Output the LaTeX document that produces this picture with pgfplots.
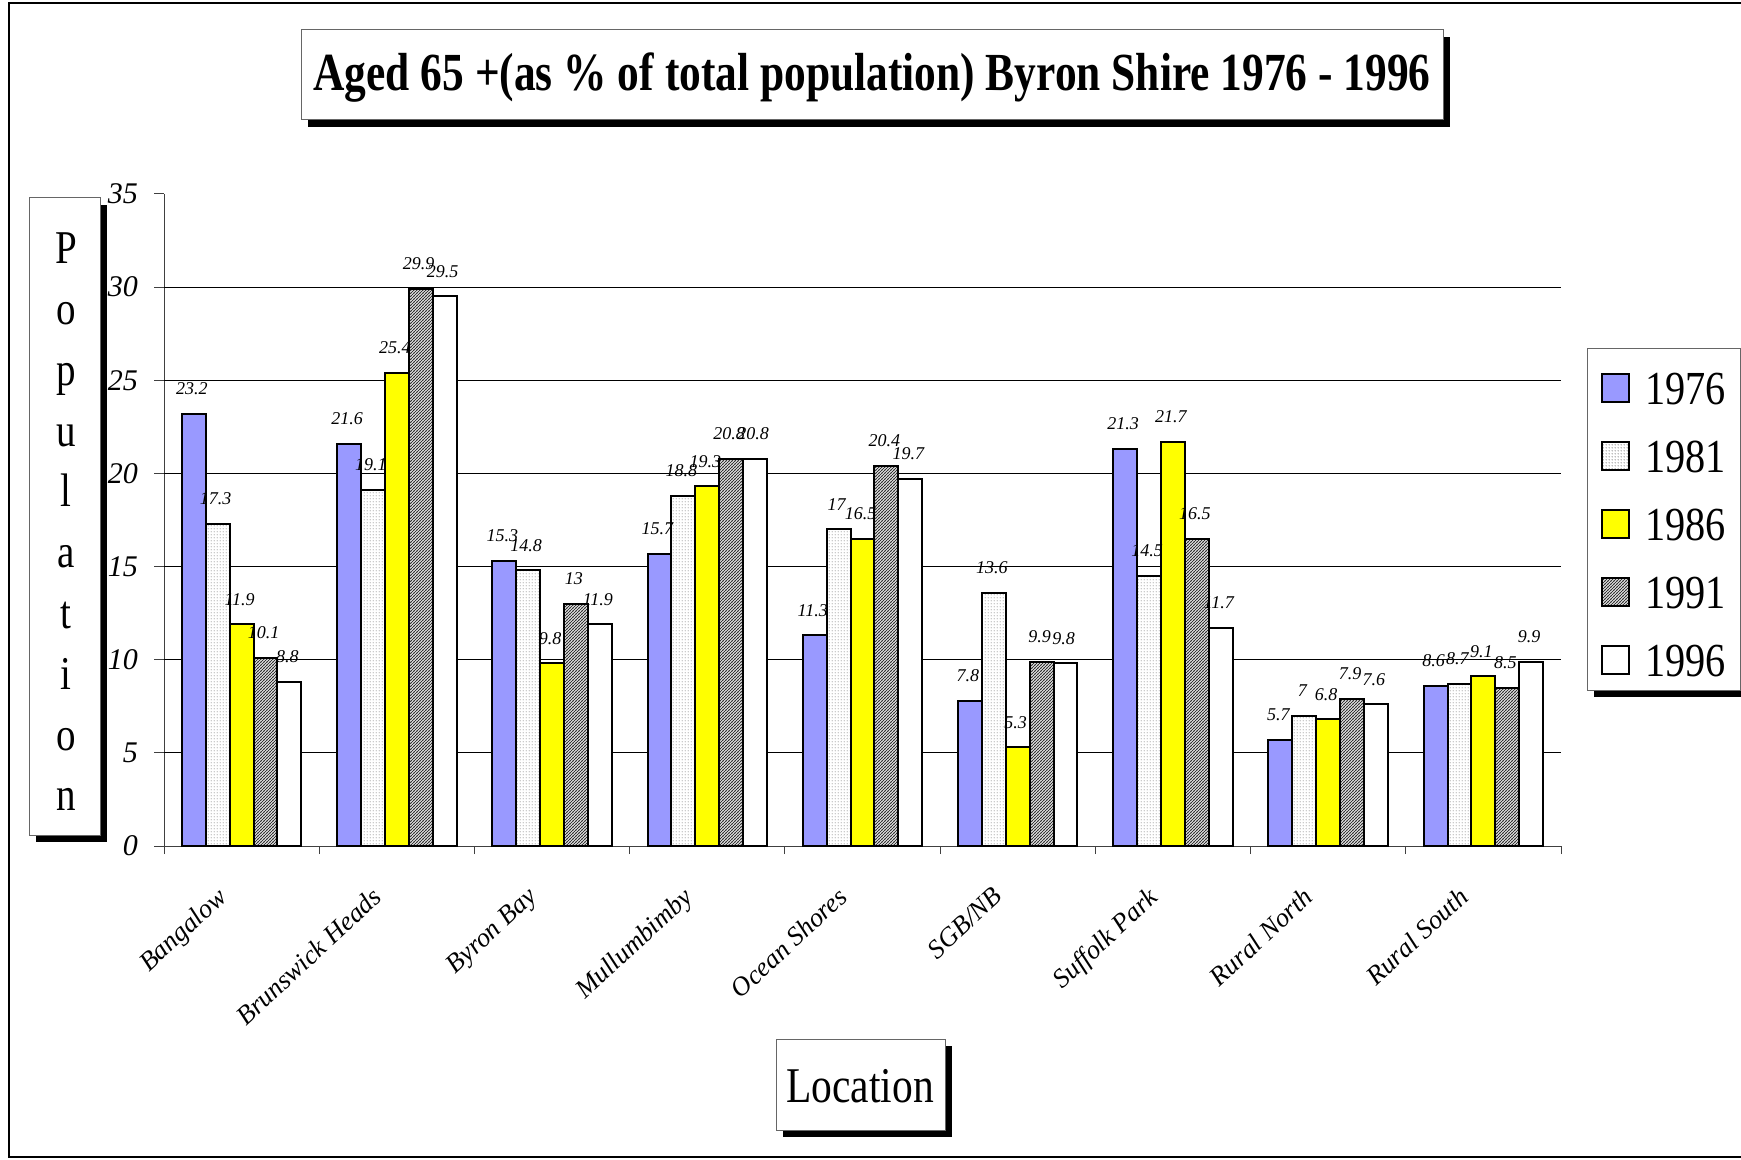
\documentclass[border=0pt]{standalone}
\usepackage{fontspec}
\setmainfont{Liberation Serif}
\newfontfamily\cond[FakeStretch=0.83]{Liberation Serif}
\newfontfamily\titlefont[FakeStretch=0.81]{Liberation Serif}
\newfontfamily\legfont[FakeStretch=0.85]{Liberation Serif}
\usepackage{pgfplots}
\pgfplotsset{compat=1.18}
\usetikzlibrary{patterns}
\definecolor{peri}{HTML}{9999FF}
\definecolor{yel}{HTML}{FFFF00}
\pgfdeclarepatternformonly{finedots}{\pgfqpoint{0pt}{0pt}}{\pgfqpoint{1.5pt}{1.5pt}}{\pgfqpoint{1.5pt}{1.5pt}}{%
  \pgfpathcircle{\pgfqpoint{0.75pt}{0.75pt}}{0.33pt}\pgfusepath{fill}}
\pgfdeclarepatternformonly{finelines}{\pgfqpoint{-0.5pt}{-0.5pt}}{\pgfqpoint{2pt}{2pt}}{\pgfqpoint{1.5pt}{1.5pt}}{%
  \pgfsetlinewidth{0.4pt}\pgfpathmoveto{\pgfqpoint{-0.2pt}{-0.2pt}}\pgfpathlineto{\pgfqpoint{1.7pt}{1.7pt}}\pgfusepath{stroke}}
\begin{document}
\begin{tikzpicture}
\begin{scope}[x=0.5pt,y=-0.5pt]
  % outer frame
  \draw[line width=0.6pt] (1741,3) -- (9,3) -- (9,1157) -- (1741,1157);
  % title
  \fill[black] (308,37) rectangle (1450,127);
  \draw[fill=white, draw=black!60, line width=0.5pt] (301,30) rectangle (1443,120);
  \node[font=\titlefont\bfseries\fontsize{26.8}{30}\selectfont, inner sep=0pt] at (872,78) {Aged 65 +(as \% of total population) Byron Shire 1976 - 1996};
  % y label
  \fill[black] (36,205) rectangle (107,842);
  \draw[fill=white, draw=black!60, line width=0.5pt] (29,198) rectangle (100,835);
  \node[align=center, font=\cond\fontsize{23.5}{30.4}\selectfont, inner sep=0pt] at (66,522) {P\\o\\p\\u\\l\\a\\t\\i\\o\\n};
  % x label
  \fill[black] (783,1046) rectangle (952,1137);
  \draw[fill=white, draw=black!60, line width=0.5pt] (776,1039) rectangle (945,1130);
  \node[font=\cond\fontsize{25}{28}\selectfont, inner sep=0pt] at (860,1086) {Location};
  % legend shadow
  \fill[black] (1594,355) rectangle (1745,697);
\end{scope}
\begin{axis}[
  at={(82pt,-423pt)}, anchor=south west,
  scale only axis, width=698.5pt, height=326pt,
  xmin=-0.5, xmax=8.5, ymin=0, ymax=35,
  axis lines*=left, axis line style={black!75, line width=0.5pt, -},
  ybar, bar width=0.154,
  legend image code/.code={\draw[#1] (0pt,-9pt) rectangle (13.5pt,5pt);},
  xtick={0,...,8},
  xticklabels={Bangalow, Brunswick Heads, Byron Bay, Mullumbimby, Ocean Shores, SGB/NB, Suffolk Park, Rural North, Rural South},
  major x tick style={draw=none},
  minor xtick={-0.5,0.5,...,8.5},
  minor x tick style={black!75, line width=0.5pt},
  minor tick length=4pt,
  ytick={0,5,...,35},
  major y tick style={black!75, line width=0.5pt},
  major tick length=5pt,
  tick align=outside,
  extra y ticks={5,10,...,30},
  extra y tick labels={},
  extra y tick style={grid=major, major tick length=0pt, major grid style={black, line width=0.5pt}},
  /pgf/number format/assume math mode=true,
  yticklabel style={font=\itshape\fontsize{15}{15}\selectfont, xshift=-4.5pt},
  xticklabel style={font=\itshape\fontsize{13.3}{14}\selectfont, rotate=43, anchor=north east, inner sep=0pt, xshift=-19.5pt, yshift=-1.7pt},
  nodes near coords,
  every node near coord/.append style={font=\itshape\fontsize{9}{9}\selectfont, anchor=south, inner sep=0pt, yshift=9pt, xshift=-1pt, text=black},
  legend cell align=left,
  legend style={at={(1.0186,0.7638)}, anchor=north west, draw=black!60, fill=white, line width=0.5pt,
    font=\legfont\fontsize{23.7}{24}\selectfont, inner xsep=7pt, inner ysep=7pt, row sep=13pt,
    nodes={inner sep=0pt, text height=21pt, text depth=0pt},
    /tikz/every odd column/.append style={column sep=7.5pt}},
]
\addplot[draw=black, line width=1pt, fill=peri, bar shift=-0.308] coordinates {(0,23.2) (1,21.6) (2,15.3) (3,15.7) (4,11.3) (5,7.8) (6,21.3) (7,5.7) (8,8.6)};
\addplot[draw=black, line width=1pt, fill=white, postaction={pattern=finedots, pattern color=black!70}, bar shift=-0.154] coordinates {(0,17.3) (1,19.1) (2,14.8) (3,18.8) (4,17) (5,13.6) (6,14.5) (7,7) (8,8.7)};
\addplot[draw=black, line width=1pt, fill=yel, bar shift=0] coordinates {(0,11.9) (1,25.4) (2,9.8) (3,19.3) (4,16.5) (5,5.3) (6,21.7) (7,6.8) (8,9.1)};
\addplot[draw=black, line width=1pt, fill=white, postaction={pattern=finelines, pattern color=black!80}, bar shift=0.154] coordinates {(0,10.1) (1,29.9) (2,13) (3,20.8) (4,20.4) (5,9.9) (6,16.5) (7,7.9) (8,8.5)};
\addplot[draw=black, line width=1pt, fill=white, bar shift=0.308] coordinates {(0,8.8) (1,29.5) (2,11.9) (3,20.8) (4,19.7) (5,9.8) (6,11.7) (7,7.6) (8,9.9)};
\legend{1976,1981,1986,1991,1996}
\end{axis}
\pgfresetboundingbox
\path[use as bounding box] (0,0) rectangle (870.5pt,-580pt);
\end{tikzpicture}
\end{document}
